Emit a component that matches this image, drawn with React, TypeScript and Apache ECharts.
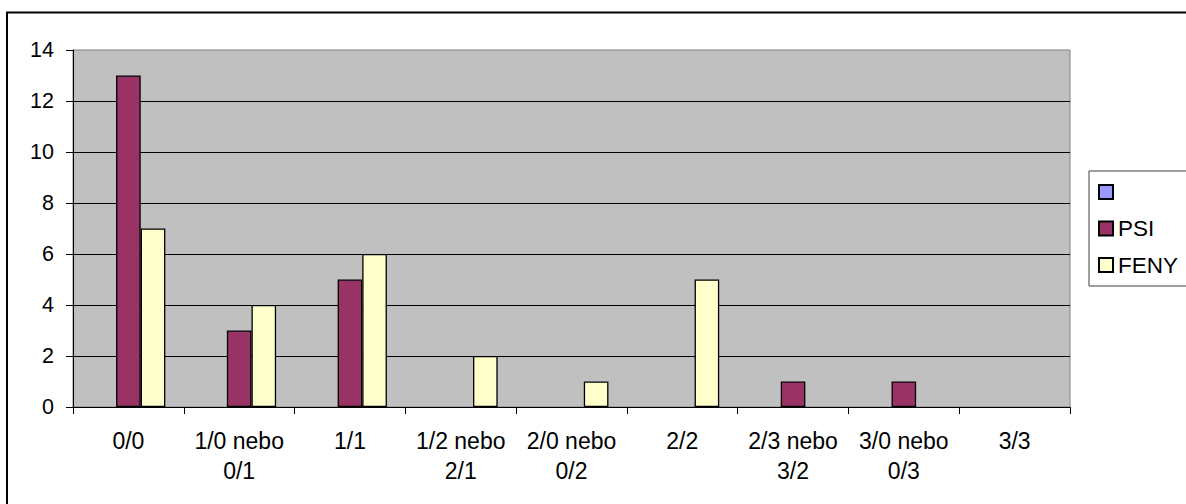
import React, { useEffect, useRef } from "react";
import * as echarts from "echarts";

const categories = [
  "0/0",
  "1/0 nebo\n0/1",
  "1/1",
  "1/2 nebo\n2/1",
  "2/0 nebo\n0/2",
  "2/2",
  "2/3 nebo\n3/2",
  "3/0 nebo\n0/3",
  "3/3",
];
const blankValues: (number | null)[] = [null, null, null, null, null, null, null, null, null];
const psiValues = [13, 3, 5, 0, 0, 0, 1, 1, 0];
const fenyValues = [7, 4, 6, 2, 1, 5, 0, 0, 0];

const FONT = "'Liberation Sans', Arial, sans-serif";

// Excel draws no visible bar for a zero value
const hideZero = (arr: (number | null)[]) => arr.map((v) => (v === 0 ? null : v));

export default function App() {
  const ref = useRef<HTMLDivElement>(null);
  useEffect(() => {
    if (!ref.current) return;
    const chart = echarts.init(ref.current, undefined, { renderer: "svg" });
    const barStyle = (color: string) => ({ color, borderColor: "#000", borderWidth: 1.3 });
    chart.setOption({
      animation: false,
      backgroundColor: "#fff",
      textStyle: { fontFamily: FONT },
      grid: {
        left: 73,
        top: 50,
        right: 116,
        bottom: 97,
        show: true,
        backgroundColor: "#C0C0C0",
        borderColor: "#808080",
        borderWidth: 1,
      },
      legend: {
        orient: "vertical",
        left: 1089,
        top: 171,
        padding: [9.5, 80, 9.5, 9],
        borderColor: "#404040",
        borderWidth: 1,
        itemWidth: 14,
        itemHeight: 14,
        itemGap: 13.5,
        icon: "rect",
        textStyle: { fontFamily: FONT, fontSize: 22.5, lineHeight: 21, color: "#000" },
        data: [" ", "PSI", "FENY"],
      },
      xAxis: {
        type: "category",
        data: categories,
        axisLine: { lineStyle: { color: "#000", width: 1 } },
        axisTick: { show: true, length: 7, lineStyle: { color: "#000" } },
        axisLabel: {
          fontFamily: FONT,
          fontSize: 23,
          lineHeight: 30,
          color: "#000",
          margin: 19,
          interval: 0,
        },
      },
      yAxis: {
        type: "value",
        min: 0,
        max: 14,
        interval: 2,
        axisLine: { show: true, lineStyle: { color: "#000", width: 1 } },
        axisTick: { show: true, length: 7, lineStyle: { color: "#000" } },
        axisLabel: { fontFamily: FONT, fontSize: 21.5, color: "#000", margin: 19 },
        splitLine: { show: true, showMaxLine: false, lineStyle: { color: "#000", width: 1 } },
      },
      series: [
        {
          name: " ",
          type: "bar",
          data: blankValues,
          itemStyle: barStyle("#9999FF"),
          barGap: "0%",
          barCategoryGap: "33.3%",
        },
        {
          name: "PSI",
          type: "bar",
          data: hideZero(psiValues),
          itemStyle: barStyle("#993366"),
          barGap: "0%",
          barCategoryGap: "33.3%",
        },
        {
          name: "FENY",
          type: "bar",
          data: hideZero(fenyValues),
          itemStyle: barStyle("#FFFFCC"),
          barGap: "0%",
          barCategoryGap: "33.3%",
        },
      ],
      graphic: [
        {
          type: "rect",
          z: 100,
          silent: true,
          shape: { x: 7, y: 12.5, width: 1300, height: 700 },
          style: { fill: "none", stroke: "#000", lineWidth: 2 },
        },
      ],
    });
    return () => chart.dispose();
  }, []);
  return (
    <div
      ref={ref}
      style={{ position: "fixed", left: 0, top: 0, width: 1186, height: 504 }}
    />
  );
}
